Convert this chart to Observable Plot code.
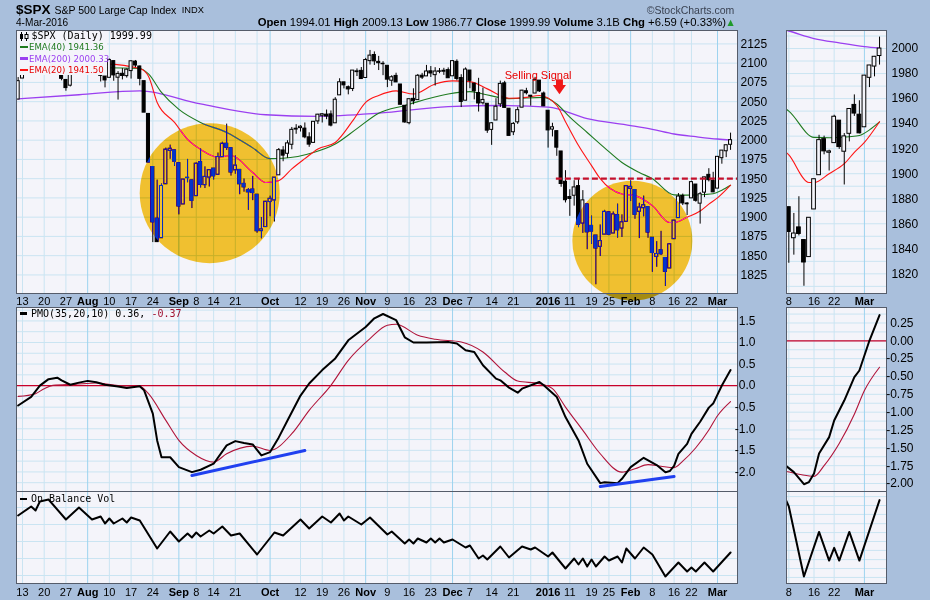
<!DOCTYPE html>
<html><head><meta charset="utf-8">
<script src="https://cdn.jsdelivr.net/npm/d3@7"></script>
<script src="https://cdn.jsdelivr.net/npm/@observablehq/plot@0.6"></script>
<style>
html,body{margin:0;padding:0;}
body{width:930px;height:600px;background:#a9bfdc;position:relative;overflow:hidden;font-family:"Liberation Sans",Arial,sans-serif;color:#000;}
.abs{position:absolute;white-space:nowrap;line-height:1;}
.leg{position:absolute;white-space:nowrap;line-height:1;font-family:"DejaVu Sans",sans-serif;}
.dash{display:inline-block;width:8px;height:2.5px;vertical-align:0.22em;margin-right:1.5px;}
</style></head><body>
<script>
// ---------- DATA ----------
const tradingDays = {
  "2015-07": [10,13,14,15,16,17,20,21,22,23,24,27,28,29,30,31],
  "2015-08": [3,4,5,6,7,10,11,12,13,14,17,18,19,20,21,24,25,26,27,28,31],
  "2015-09": [1,2,3,4,8,9,10,11,14,15,16,17,18,21,22,23,24,25,28,29,30],
  "2015-10": [1,2,5,6,7,8,9,12,13,14,15,16,19,20,21,22,23,26,27,28,29,30],
  "2015-11": [2,3,4,5,6,9,10,11,12,13,16,17,18,19,20,23,24,25,27,30],
  "2015-12": [1,2,3,4,7,8,9,10,11,14,15,16,17,18,21,22,23,24,28,29,30,31],
  "2016-01": [4,5,6,7,8,11,12,13,14,15,19,20,21,22,25,26,27,28,29],
  "2016-02": [1,2,3,4,5,8,9,10,11,12,16,17,18,19,22,23,24,25,26,29],
  "2016-03": [1,2,3,4]
};
const open = [2052.73,
2080.03,2099.72,2109.01,2110.55,2126.80, 2126.85,2127.55,2118.21,2114.16,2102.24, 2078.19,2070.75,2094.70,2106.78,2111.60,
2104.49,2097.68,2095.27,2100.75,2082.61, 2080.98,2102.66,2081.10,2086.19,2083.15, 2089.70,2101.99,2095.69,2076.61,2034.08, 1965.15,1898.08,1872.75,1942.77,1986.06, 1986.73,
1970.09,1916.52,1950.79,1947.76, 1927.30,1971.45,1941.59,1951.45, 1963.06,1955.10,1978.02,1995.33,1989.66, 1960.84,1961.39,1943.24,1934.81,1935.93, 1929.18,1881.90,1887.14,
1919.65,1921.77, 1954.33,1986.63,1982.34,1994.01,2013.73, 2015.65,2015.00,2003.66,1996.47,2024.37, 2031.73,2033.13,2033.47,2021.88,2058.19, 2075.08,2068.75,2066.48,2088.35,2090.00,
2080.76,2102.63,2110.60,2101.68,2098.60, 2096.56,2077.19,2083.41,2072.29,2044.64, 2022.08,2053.67,2051.99,2083.70,2082.82, 2089.41,2084.42,2089.30,2088.82, 2090.95,
2082.93,2101.71,2080.71,2051.24, 2090.42,2073.39,2061.17,2047.93,2047.27, 2013.37,2025.55,2046.50,2073.76,2040.81, 2010.27,2023.15,2042.20,2063.52, 2057.77,2060.54,2077.34,2060.59,
2038.20,2013.78,2011.71,1985.32,1945.97, 1926.12,1927.83,1940.34,1891.68,1916.68, 1888.66,1876.18,1861.46,1877.40, 1906.28,1878.79,1902.52,1885.22,1894.00,
1936.94,1935.26,1907.07,1911.67,1913.07, 1873.25,1848.46,1857.10,1847.00,1833.40, 1871.44,1898.80,1927.57,1916.74, 1924.44,1942.38,1917.56,1931.87,1954.95, 1947.13,
1937.09,1976.60,1985.60,1994.01];
const high = [2081.31,
2100.67,2111.98,2114.14,2124.42,2128.91, 2132.82,2128.49,2125.55,2116.87,2106.01, 2078.19,2095.60,2110.60,2110.48,2114.24,
2105.70,2102.51,2112.66,2103.32,2082.61, 2105.35,2102.66,2089.06,2092.93,2092.45, 2102.87,2103.47,2096.17,2076.61,2034.08, 1965.15,1948.04,1943.09,1989.60,1993.48, 1986.73,
1970.09,1948.91,1975.01,1947.76, 1970.42,1988.63,1965.29,1961.05, 1963.06,1983.19,1997.26,2020.86,1989.66, 1979.64,1961.39,1949.52,1937.17,1952.89, 1929.18,1899.48,1920.53,
1927.21,1951.36, 1989.17,1991.62,1999.31,2016.50,2020.13, 2018.66,2022.34,2009.56,2024.15,2033.54, 2034.45,2039.12,2037.97,2055.20,2079.74, 2075.14,2070.37,2090.35,2092.52,2094.32,
2106.20,2116.48,2114.59,2108.78,2101.91, 2096.56,2083.67,2086.94,2072.29,2044.64, 2053.22,2066.69,2085.31,2086.74,2097.06, 2095.61,2094.12,2093.00,2093.29, 2093.81,
2103.37,2104.27,2085.00,2093.84, 2090.42,2073.85,2080.33,2067.65,2047.27, 2022.92,2053.87,2076.72,2076.37,2040.81, 2022.90,2042.74,2064.73,2067.36, 2057.77,2081.56,2077.34,2062.54,
2038.20,2021.94,2011.71,1985.32,1960.40, 1935.65,1947.38,1950.33,1934.47,1916.68, 1901.44,1876.18,1889.85,1908.85, 1906.28,1906.73,1916.99,1902.96,1940.24,
1947.20,1935.26,1918.01,1927.35,1913.07, 1873.25,1868.25,1881.60,1847.00,1864.78, 1895.77,1930.68,1930.00,1918.78, 1946.70,1942.38,1932.08,1951.83,1962.96, 1958.27,
1978.35,1986.51,1993.69,2009.13];
const low = [2052.73,
2080.03,2095.02,2102.49,2110.55,2119.88, 2123.66,2115.40,2110.11,2098.63,2077.09, 2063.52,2069.09,2094.08,2094.97,2102.07,
2087.31,2088.60,2095.27,2075.53,2067.91, 2080.98,2076.49,2052.09,2078.26,2080.61, 2079.30,2094.14,2070.53,2035.73,1970.89, 1867.01,1867.08,1872.75,1942.77,1975.19, 1965.98,
1903.07,1916.52,1944.72,1911.21, 1927.30,1937.88,1937.19,1939.19, 1948.27,1954.30,1977.93,1986.73,1953.45, 1955.80,1929.22,1932.57,1908.92,1921.50, 1879.21,1871.91,1887.14,
1900.70,1893.70, 1954.33,1971.99,1976.44,1987.53,2007.61, 2010.55,2001.78,1990.73,1996.47,2020.46, 2022.31,2026.61,2017.22,2021.88,2058.19, 2066.53,2058.84,2063.11,2082.63,2079.34,
2080.76,2097.51,2096.98,2090.41,2083.74, 2068.24,2069.91,2074.85,2045.66,2022.02, 2019.94,2045.90,2051.99,2078.76,2082.82, 2081.39,2070.29,2086.30,2084.13, 2080.41,
2082.93,2077.11,2042.35,2051.24, 2066.78,2052.32,2036.53,2045.67,2008.80, 1993.26,2025.55,2042.43,2041.66,2005.33, 2005.93,2020.49,2042.20,2058.73, 2044.20,2060.54,2061.97,2043.62,
1989.68,2004.17,1979.05,1938.83,1918.46, 1901.10,1914.35,1886.41,1878.93,1857.83, 1864.60,1812.29,1848.98,1877.40, 1875.97,1878.79,1872.70,1873.65,1894.00,
1920.30,1897.29,1872.23,1900.52,1872.65, 1828.46,1834.94,1850.32,1810.10,1833.40, 1871.44,1898.80,1915.09,1902.17, 1924.44,1919.44,1891.00,1925.41,1945.78, 1931.81,
1937.09,1968.80,1977.37,1986.77];
const close = [2076.62,
2099.60,2108.95,2107.40,2124.29,2126.64, 2128.28,2119.21,2114.15,2102.15,2079.65, 2067.64,2093.25,2108.57,2108.63,2103.84,
2098.04,2093.32,2099.84,2083.56,2077.57, 2104.18,2084.07,2086.05,2083.39,2091.54, 2102.44,2096.92,2079.61,2035.73,1970.89, 1893.21,1867.61,1940.51,1987.66,1988.87, 1972.18,
1913.85,1948.86,1951.13,1921.22, 1969.41,1942.04,1952.29,1961.05, 1953.03,1978.09,1995.31,1990.20,1958.03, 1966.97,1942.74,1938.76,1932.24,1931.34, 1881.77,1884.09,1920.03,
1923.82,1951.36, 1987.05,1979.92,1995.83,2013.43,2014.89, 2017.46,2003.69,1994.24,2023.86,2033.11, 2033.66,2030.77,2018.94,2052.51,2075.15, 2071.18,2065.89,2090.35,2089.41,2079.36,
2104.05,2109.79,2102.31,2099.93,2099.20, 2078.58,2081.72,2075.00,2045.97,2023.04, 2053.19,2050.44,2083.58,2081.24,2089.17, 2086.59,2089.14,2088.87,2090.11, 2080.41,
2102.63,2079.51,2049.62,2091.69, 2077.07,2063.59,2047.62,2052.23,2012.37, 2021.94,2043.41,2073.07,2041.89,2005.55, 2021.15,2038.97,2064.29,2060.99, 2056.50,2078.36,2063.36,2043.94,
2012.66,2016.71,1990.26,1943.09,1922.03, 1923.67,1938.68,1890.28,1921.84,1880.33, 1881.33,1859.33,1868.99,1906.90, 1877.08,1903.63,1882.95,1893.36,1940.24,
1939.38,1903.03,1912.53,1915.45,1880.05, 1853.44,1852.21,1851.86,1829.08,1864.78, 1895.58,1926.82,1917.83,1917.78, 1945.50,1921.27,1929.80,1951.70,1948.05, 1932.23,
1978.35,1986.45,1993.40,1999.99];

// indicator readings: [session, value]; session 0 = 13 Jul 2015, -1 = 10 Jul 2015
const ema200 = [[-1,2053.5],[13,2059],[27,2064],[41,2047],[56,2033],[68,2031],[82,2035],[98,2043.5],[110,2045],[121,2043],[130,2028],[140,2019],[145,2014],[150,2008],[155,2004.5],[160,2001.5],[163,2000.33]];
const ema40 = [[-1,2088],[10,2090],[19,2094],[27,2093],[29,2086],[32,2062],[36,2040],[41,2023],[47,2010],[53,1990],[57,1976],[60,1976.5],[67,1984],[72,1995],[77,2015],[82,2035],[88,2045],[98,2060],[103,2063],[106,2060],[112,2054],[120,2055.5],[123,2047],[126,2030],[130,2010],[134,1990],[138,1971],[142,1958],[145,1950],[150,1929],[153,1928.7],[157,1929.5],[159,1930.5],[161,1935],[163,1941.36]];
const ema20 = [[-1,2098],[10,2100],[19,2099],[27,2093],[29,2083],[31,2049],[35,2023],[38,2001],[41,1988],[45,1978],[48,1980],[53,1958],[56,1945],[59,1947.5],[62,1962.7],[65,1976],[68,1988.6],[72,1997],[76,2025],[79,2049],[82,2058],[86,2064],[90,2060],[95,2073],[99,2077],[103,2076],[107,2066.6],[112,2054.4],[116,2055.6],[119,2058],[123,2045],[125,2024],[128,1993],[131,1967],[133,1950],[138,1930],[141,1928],[145,1915],[149,1893],[150,1893],[153,1900],[156,1908],[158,1917],[160,1925],[163,1941.5]];
const pmo = [[-1,-0.46],[2,-0.26],[4,0.0],[6,0.15],[8,0.185],[9,0.12],[11,0.02],[13,0.07],[15,0.11],[17,0.08],[19,0.02],[22,-0.02],[24,-0.055],[27,-0.016],[28,-0.11],[30,-0.65],[31,-1.27],[32,-1.66],[34,-1.66],[36,-1.89],[39,-2.005],[41,-1.95],[44,-1.81],[47,-1.386],[49,-1.286],[51,-1.332],[53,-1.363],[55,-1.618],[57,-1.54],[59,-1.2],[61,-0.81],[64,-0.23],[66,0.05],[69,0.36],[72,0.63],[75,1.05],[79,1.36],[81,1.56],[83,1.66],[86,1.52],[88,1.12],[90,1.0],[93,1.0],[98,1.013],[100,0.975],[102,0.82],[104,0.78],[106,0.471],[109,0.162],[110,0.123],[112,-0.046],[114,-0.163],[115,-0.07],[119,0.085],[120,0.007],[123,-0.264],[125,-0.729],[128,-1.27],[130,-1.811],[133,-2.26],[134,-2.24],[137,-2.26],[138,-2.16],[140,-1.89],[143,-1.672],[146,-1.84],[148,-2.01],[149,-1.98],[150,-1.86],[151,-1.58],[153,-1.35],[154,-1.117],[156,-0.837],[158,-0.51],[159,-0.416],[161,0.004],[163,0.36]];
const pmoSignal = [[-1,-0.25],[3,-0.186],[5,-0.07],[7,0.007],[12,0.03],[17,0.06],[22,0.0],[27,-0.016],[29,-0.186],[33,-0.806],[36,-1.27],[40,-1.618],[44,-1.773],[47,-1.579],[53,-1.402],[57,-1.502],[62,-1.115],[66,-0.573],[71,0.007],[75,0.587],[80,1.09],[84,1.4],[86,1.423],[91,1.168],[95,1.075],[101,1.013],[106,0.78],[111,0.316],[114,0.107],[119,0.046],[122,-0.07],[125,-0.497],[129,-1.038],[133,-1.579],[138,-2.005],[141,-1.927],[144,-1.83],[147,-1.87],[150,-1.9],[152,-1.75],[155,-1.44],[158,-1.03],[160,-0.697],[163,-0.37]];
const obv = [[-1,68],[2,77],[3,73],[4,82],[6,84],[10,64],[13,76],[16,64],[18,67],[19,60],[20,65],[21,60],[23,65],[24,61],[25,66],[27,63],[28,56],[31,35],[34,52],[36,42],[38,50],[39,46],[40,51],[41,47],[43,53],[44,50],[46,57],[48,48],[50,50],[54,29],[58,51],[60,48],[64,64],[66,55],[69,67],[71,61],[73,70],[74,63],[75,67],[78,59],[80,66],[84,49],[85,52],[88,40],[89,44],[90,40],[91,45],[93,41],[94,45],[95,41],[96,45],[97,41],[99,44],[102,36],[103,38],[105,25],[106,28],[107,24],[110,37],[112,26],[115,37],[117,34],[118,36],[121,27],[122,31],[125,15],[127,25],[128,19],[129,25],[130,17],[131,24],[132,17],[134,27],[135,23],[137,27],[138,21],[139,35],[141,25],[143,36],[145,29],[148,7],[151,21],[153,12],[154,16],[155,12],[157,21],[159,12],[163,31]];
// annotations drawn by the chartist
const divergence1 = [[39,-2.083],[65,-1.503]];
const divergence2 = [[133,-2.338],[150,-2.106]];
const highlights = [{session: 43.1, price: 1931.2}, {session: 140.4, price: 1869.5}];
const resistance = [{from: 122.9, level: 1950}];
const sellLabel = [{session: 118.7, price: 2084, label: "Selling Signal"}];
const sellArrow = {session: 123.73, top: 2078.4, neck: 2071.0, tip: 2058.9};
// axis tick labels
const mainTicks = [[0,"13"],[5,"20"],[10,"27"],[15,"Aug"],[20,"10"],[25,"17"],[30,"24"],[36,"Sep"],[40,"8"],[44,"14"],[49,"21"],[57,"Oct"],[64,"12"],[69,"19"],[74,"26"],[79,"Nov"],[84,"9"],[89,"16"],[94,"23"],[99,"Dec"],[103,"7"],[108,"14"],[113,"21"],[121,"2016"],[126,"11"],[131,"19"],[135,"25"],[140,"Feb"],[145,"8"],[150,"16"],[154,"22"],[160,"Mar"]];
const extraWeekGrid = [54,117];
const miniTicks = [[145,"8"],[150,"16"],[154,"22"],[160,"Mar"]];
const priceTicks = [1825,1850,1875,1900,1925,1950,1975,2000,2025,2050,2075,2100,2125];
const miniPriceTicks = [1820,1840,1860,1880,1900,1920,1940,1960,1980,2000];
const pmoTicks = [-2,-1.5,-1,-0.5,0,0.5,1,1.5];
const miniPmoTicks = [-2,-1.75,-1.5,-1.25,-1,-0.75,-0.5,-0.25,0,0.25];

// ---------- STYLE ----------
const panelBg = "#f4f4fa", gridC = "#cae4f2", gridMonthC = "#9dd3ef", frameC = "#555c6a";
const circleC = "#0434ca"; // blended with "difference": white -> orange, black -> blue
const cEma40 = "#1f7a1f", cEma200 = "#9b3ff0", cEma20 = "#ff1414", cSig = "#b0143a", cZero = "#c8002a";
const MAIN_X = [-1.38, 164.6], MINI_X = [144.54, 164.38];
const plotStyle = {background: "transparent", fontFamily: "Liberation Sans, Arial, sans-serif", fontSize: "11px", color: "#000", overflow: "visible", maxWidth: "none"};

const dates = Object.entries(tradingDays).flatMap(([m, ds]) => ds.map(d => `${m}-${String(d).padStart(2, "0")}`));
const candles = dates.map((date, i) => ({date, s: i - 1, o: open[i], h: high[i], l: low[i], c: close[i]}));
const isBold = t => /^[A-Z]/.test(t[1]) || t[1] === "2016";

function xGrid(ticks, extra = []) {
  return [
    Plot.gridX(ticks.filter(t => !isBold(t)).map(t => t[0]).concat(extra), {stroke: gridC, strokeOpacity: 1}),
    Plot.gridX(ticks.filter(isBold).map(t => t[0]), {stroke: gridMonthC, strokeOpacity: 1})
  ];
}
function xAxes(ticks, pad) {
  const lab = new Map(ticks.map(t => [t[0], t[1]]));
  return [
    Plot.axisX(ticks.filter(t => !isBold(t)).map(t => t[0]), {tickSize: 0, tickPadding: pad, tickFormat: s => lab.get(s), fontSize: 11, label: null}),
    Plot.axisX(ticks.filter(isBold).map(t => t[0]), {tickSize: 0, tickPadding: pad, tickFormat: s => lab.get(s), fontSize: 11, fontWeight: "bold", label: null})
  ];
}
function candleMarks(hw) {
  const up = candles.filter(d => d.c >= d.o), dn = candles.filter(d => d.c < d.o);
  return [
    Plot.ruleX(candles, {x: "s", y1: "l", y2: "h", stroke: "#000", strokeWidth: 1, clip: true}),
    Plot.rect(up, {x1: d => d.s - hw, x2: d => d.s + hw, y1: "o", y2: "c", fill: panelBg, stroke: "#000", strokeWidth: 1, clip: true}),
    Plot.rect(dn, {x1: d => d.s - hw, x2: d => d.s + hw, y1: "o", y2: "c", fill: "#000", stroke: "#000", strokeWidth: 1, clip: true})
  ];
}
function line(data, stroke, width, curve = "linear") {
  return Plot.line(data, {x: d => d[0], y: d => d[1], stroke, strokeWidth: width, curve, clip: true});
}
function place(svg, left, top, w) {
  const div = document.createElement("div");
  div.style.cssText = `position:absolute;left:${left}px;top:${top}px;width:${w}px;`;
  div.appendChild(svg);
  document.body.appendChild(div);
}
function html(s) { document.body.insertAdjacentHTML("beforeend", s); }

// ---------- HEADER ----------
html(`<div class="abs" style="left:16px;top:3.3px;font-size:13.5px;font-weight:bold;">$SPX</div>
<div class="abs" style="left:54.5px;top:5.1px;font-size:10.5px;">S&amp;P 500 Large Cap Index</div>
<div class="abs" style="left:181.7px;top:6.2px;font-size:9.3px;">INDX</div>
<div class="abs" style="left:16px;top:17.8px;font-size:10.1px;">4-Mar-2016</div>
<div class="abs" style="left:646.7px;top:5.4px;font-size:10.5px;color:#3a4252;">©StockCharts.com</div>
<div class="abs" style="right:204px;top:16.9px;font-size:11.3px;text-align:right;"><b>Open</b> 1994.01 <b>High</b> 2009.13 <b>Low</b> 1986.77 <b>Close</b> 1999.99 <b>Volume</b> 3.1B <b>Chg</b> +6.59 (+0.33%)</div>
<div class="abs" style="left:727.5px;top:19px;font-size:8px;color:#1f9a2a;font-family:'DejaVu Sans';">▲</div>`);

// ---------- MAIN PRICE PANEL ----------
const main = Plot.plot({
  width: 780, height: 279, marginLeft: 16, marginRight: 43, marginTop: 0, marginBottom: 16,
  x: {domain: MAIN_X, axis: null, label: null},
  y: {domain: [1800.9, 2142.4], axis: null, label: null},
  style: plotStyle,
  marks: [
    Plot.frame({fill: panelBg, stroke: "none"}),
    Plot.gridY(priceTicks, {stroke: gridC, strokeOpacity: 1}),
    ...xGrid(mainTicks, extraWeekGrid),
    line(ema200, cEma200, 1.3, "monotone-x"),
    line(ema40, cEma40, 1.1, "monotone-x"),
    line(ema20, cEma20, 1.1, "monotone-x"),
    ...candleMarks(0.35),
    Plot.dot(highlights.slice(0, 1), {x: "session", y: "price", r: 70, fill: circleC, stroke: "none"}),
    Plot.dot(highlights.slice(1, 2), {x: "session", y: "price", r: 60, fill: circleC, stroke: "none"}),
    Plot.ruleY(resistance, {x1: "from", x2: () => MAIN_X[1], y: "level", stroke: "#c4102c", strokeWidth: 2.2, strokeDasharray: "6,3"}),
    Plot.text(sellLabel, {x: "session", y: "price", text: "label", fill: "#e80000", fontSize: 11, fontFamily: "Liberation Sans, Arial, sans-serif"}),
    Plot.rect([sellArrow], {x1: d => d.session - 0.8, x2: d => d.session + 0.8, y1: "neck", y2: "top", fill: "#f01818"}),
    Plot.areaY([
      {x: sellArrow.session - 1.5, y1: sellArrow.neck, y2: sellArrow.neck},
      {x: sellArrow.session, y1: sellArrow.tip, y2: sellArrow.neck},
      {x: sellArrow.session + 1.5, y1: sellArrow.neck, y2: sellArrow.neck}
    ], {x: "x", y1: "y1", y2: "y2", fill: "#f01818"}),
    Plot.frame({stroke: frameC}),
    Plot.axisY(priceTicks, {anchor: "right", tickSize: 0, tickPadding: 3, fontSize: 12, tickFormat: d => String(d), label: null}),
    ...xAxes(mainTicks, 4)
  ]
});
main.querySelectorAll('g[aria-label="dot"]').forEach(g => g.style.mixBlendMode = "difference");
place(main, 0, 30, 780);

const mini = Plot.plot({
  width: 144, height: 279, marginLeft: 0, marginRight: 44, marginTop: 0, marginBottom: 16,
  x: {domain: MINI_X, axis: null, label: null},
  y: {domain: [1804.3, 2014.4], axis: null, label: null},
  style: plotStyle,
  marks: [
    Plot.frame({fill: panelBg, stroke: "none"}),
    Plot.gridY(d3.range(1810, 2011, 10), {stroke: gridC, strokeOpacity: 1}),
    ...xGrid(miniTicks),
    line(ema200, cEma200, 1.3, "monotone-x"),
    line(ema40, cEma40, 1.1, "monotone-x"),
    line(ema20, cEma20, 1.1, "monotone-x"),
    ...candleMarks(0.37),
    Plot.frame({stroke: frameC}),
    Plot.axisY(miniPriceTicks, {anchor: "right", tickSize: 0, tickPadding: 5, fontSize: 12, tickFormat: d => String(d), label: null}),
    ...xAxes(miniTicks, 4)
  ]
});
place(mini, 786, 30, 144);

// ---------- PMO PANEL ----------
const pmoPlot = Plot.plot({
  width: 780, height: 184, marginLeft: 16, marginRight: 43, marginTop: 0, marginBottom: 0,
  x: {domain: MAIN_X, axis: null, label: null},
  y: {domain: [-2.454, 1.811], axis: null, label: null},
  style: plotStyle,
  marks: [
    Plot.frame({fill: panelBg, stroke: "none"}),
    Plot.gridY(d3.range(-2.25, 1.76, 0.25), {stroke: gridC, strokeOpacity: 1}),
    ...xGrid(mainTicks, extraWeekGrid),
    Plot.ruleY([0], {stroke: cZero, strokeWidth: 1.2}),
    line(pmoSignal, cSig, 1.1, "monotone-x"),
    line(pmo, "#000", 2),
    line(divergence1, "#2040f0", 3),
    line(divergence2, "#2040f0", 3),
    Plot.frame({stroke: frameC}),
    Plot.axisY(pmoTicks, {anchor: "right", tickSize: 0, tickPadding: 18, textAnchor: "end", fontSize: 12, tickFormat: d => d.toFixed(1), label: null})
  ]
});
place(pmoPlot, 0, 307, 780);

const pmoMini = Plot.plot({
  width: 144, height: 184, marginLeft: 0, marginRight: 44, marginTop: 0, marginBottom: 0,
  x: {domain: MINI_X, axis: null, label: null},
  y: {domain: [-2.112, 0.467], axis: null, label: null},
  style: plotStyle,
  marks: [
    Plot.frame({fill: panelBg, stroke: "none"}),
    Plot.gridY(d3.range(-2, 0.46, 0.125), {stroke: gridC, strokeOpacity: 1}),
    ...xGrid(miniTicks),
    Plot.ruleY([0], {stroke: cZero, strokeWidth: 1.2}),
    line(pmoSignal, cSig, 1.1, "monotone-x"),
    line(pmo, "#000", 2),
    Plot.frame({stroke: frameC}),
    Plot.axisY(miniPmoTicks, {anchor: "right", tickSize: 0, tickPadding: 27, textAnchor: "end", fontSize: 12, tickFormat: d => d.toFixed(2), label: null})
  ]
});
place(pmoMini, 786, 307, 144);

// ---------- OBV PANEL ----------
const obvPlot = Plot.plot({
  width: 780, height: 109, marginLeft: 16, marginRight: 43, marginTop: 0, marginBottom: 17,
  x: {domain: MAIN_X, axis: null, label: null},
  y: {domain: [0, 92], axis: null, label: null},
  style: plotStyle,
  marks: [
    Plot.frame({fill: panelBg, stroke: "none"}),
    Plot.gridY([8, 25, 42, 59, 76], {stroke: gridC, strokeOpacity: 1}),
    ...xGrid(mainTicks, extraWeekGrid),
    line(obv, "#000", 2),
    Plot.frame({stroke: frameC}),
    ...xAxes(mainTicks, 5)
  ]
});
place(obvPlot, 0, 491, 780);

const obvMini = Plot.plot({
  width: 144, height: 109, marginLeft: 0, marginRight: 44, marginTop: 0, marginBottom: 17,
  x: {domain: MINI_X, axis: null, label: null},
  y: {domain: [4.8, 33.7], axis: null, label: null},
  style: plotStyle,
  marks: [
    Plot.frame({fill: panelBg, stroke: "none"}),
    Plot.gridY([6.7, 9.5, 12.3, 15.2, 18.0, 20.8, 23.6, 26.5, 29.3, 32.1], {stroke: gridC, strokeOpacity: 1}),
    ...xGrid(miniTicks),
    line(obv, "#000", 2),
    Plot.frame({stroke: frameC}),
    ...xAxes(miniTicks, 5)
  ]
});
place(obvMini, 786, 491, 144);

// ---------- LEGENDS ----------
html(`<div class="abs" style="left:17px;top:30.5px;width:90px;height:44px;background:${panelBg};"></div>
<svg class="abs" style="left:19px;top:31.5px;" width="11" height="9"><line x1="2.5" y1="0" x2="2.5" y2="9" stroke="#000"/><rect x="1" y="2" width="3" height="5" fill="#000"/><line x1="7.5" y1="0" x2="7.5" y2="9" stroke="#000"/><rect x="6" y="2.5" width="3" height="4" fill="#fff" stroke="#000"/></svg>
<div class="leg" style="left:31.5px;top:30.9px;font-size:10px;font-family:'DejaVu Sans Mono',monospace;">$SPX (Daily) 1999.99</div>
<div class="leg" style="left:19.5px;top:42.9px;font-size:8.6px;color:${cEma40};"><span class="dash" style="background:${cEma40}"></span>EMA(40) 1941.36</div>
<div class="leg" style="left:19.5px;top:54.6px;font-size:8.6px;color:${cEma200};"><span class="dash" style="background:${cEma200}"></span>EMA(200) 2000.33</div>
<div class="leg" style="left:19.5px;top:65.9px;font-size:8.6px;color:#e80000;"><span class="dash" style="background:${cEma20}"></span>EMA(20) 1941.50</div>
<div class="leg" style="left:20px;top:308.7px;font-size:10px;font-family:'DejaVu Sans Mono',monospace;"><span class="dash" style="background:#000;width:7px;margin-right:4px;"></span>PMO(35,20,10) 0.36, <span style="color:#a01030">-0.37</span></div>
<div class="leg" style="left:20px;top:494.2px;font-size:10px;font-family:'DejaVu Sans Mono',monospace;"><span class="dash" style="background:#000;width:7px;margin-right:4px;"></span>On Balance Vol</div>`);
</script>
</body></html>
